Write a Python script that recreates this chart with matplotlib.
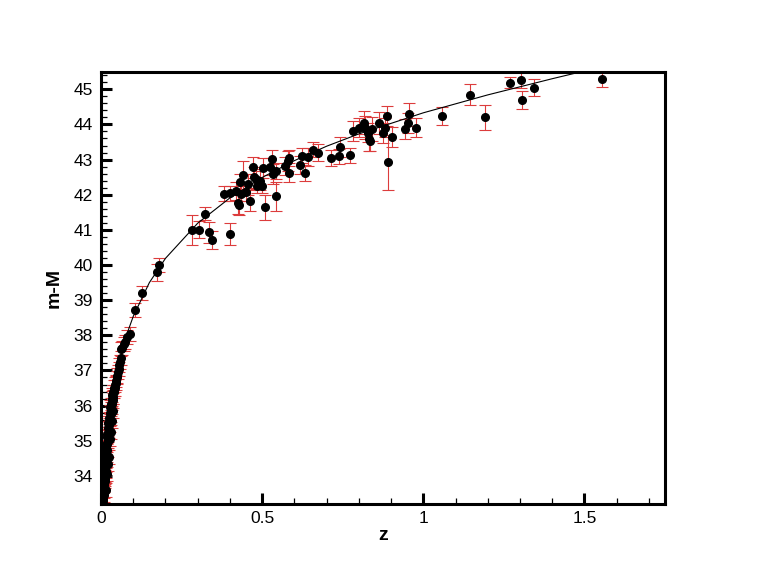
import matplotlib
matplotlib.use("Agg")
import matplotlib.pyplot as plt
from matplotlib.ticker import MultipleLocator, FuncFormatter

plt.rcParams['font.family'] = ['Liberation Sans', 'DejaVu Sans']

# ---- data: low-z supernovae ----
z_low = [0.0070, 0.0085, 0.0095, 0.0100, 0.0105, 0.0110, 0.0115, 0.0120, 0.0125, 0.0130,
         0.0135, 0.0140, 0.0145, 0.0150, 0.0155, 0.0160, 0.0165, 0.0170, 0.0175, 0.0180,
         0.0185, 0.0190, 0.0200, 0.0205, 0.0215, 0.0220, 0.0230, 0.0240, 0.0250, 0.0260,
         0.0270, 0.0280, 0.0290, 0.0300, 0.0310, 0.0320, 0.0330, 0.0340, 0.0350, 0.0360,
         0.0370, 0.0380, 0.0395, 0.0410, 0.0425, 0.0440, 0.0455, 0.0470, 0.0490, 0.0510,
         0.0530, 0.0550, 0.0570, 0.0590, 0.0610, 0.0630, 0.0650, 0.0700, 0.0750, 0.0820,
         0.0900, 0.1050, 0.1260, 0.1740, 0.1800, 0.0200, 0.0240, 0.0060, 0.0160, 0.0300,
         0.0330, 0.0380, 0.0050, 0.0230, 0.0270]
mu_low = [33.35, 33.45, 33.60, 33.75, 33.55, 33.90, 34.05, 33.85, 34.20, 34.00,
          34.35, 34.15, 34.50, 34.30, 34.65, 34.45, 34.80, 34.60, 34.95, 34.75,
          35.10, 34.90, 35.20, 35.00, 35.35, 35.15, 35.50, 35.30, 35.65, 35.45,
          35.80, 35.60, 35.95, 35.75, 36.05, 35.90, 36.20, 36.05, 36.30, 36.15,
          36.40, 36.25, 36.50, 36.40, 36.60, 36.50, 36.70, 36.65, 36.85, 36.80,
          36.95, 37.05, 37.15, 37.25, 37.35, 37.60, 37.65, 37.75, 37.80, 37.95,
          38.05, 38.73, 39.20, 39.79, 40.00, 34.05, 34.55, 33.90, 33.60, 35.25,
          35.55, 35.85, 33.30, 34.35, 35.05]
err_low = [0.20, 0.18, 0.20, 0.22, 0.18, 0.20, 0.22, 0.18, 0.20, 0.22,
           0.18, 0.20, 0.22, 0.18, 0.20, 0.22, 0.18, 0.20, 0.22, 0.18,
           0.20, 0.22, 0.18, 0.20, 0.22, 0.18, 0.20, 0.22, 0.18, 0.20,
           0.22, 0.18, 0.20, 0.22, 0.18, 0.20, 0.22, 0.18, 0.20, 0.22,
           0.18, 0.20, 0.22, 0.18, 0.20, 0.22, 0.18, 0.20, 0.22, 0.18,
           0.20, 0.20, 0.20, 0.20, 0.20, 0.20, 0.20, 0.20, 0.20, 0.20,
           0.20, 0.20, 0.20, 0.25, 0.20, 0.20, 0.20, 0.20, 0.20, 0.20,
           0.20, 0.20, 0.20, 0.20, 0.20]

# ---- data: high-z supernovae ----
z_high = [0.281, 0.304, 0.323, 0.336, 0.344, 0.400, 0.383, 0.399, 0.418, 0.424,
          0.429, 0.434, 0.432, 0.442, 0.450, 0.457, 0.462, 0.471, 0.475, 0.481,
          0.485, 0.494, 0.499, 0.510, 0.504, 0.523, 0.530, 0.535, 0.543, 0.543,
          0.571, 0.579, 0.582, 0.584, 0.618, 0.623, 0.634, 0.641, 0.659, 0.672,
          0.713, 0.739, 0.742, 0.773, 0.781, 0.800, 0.815, 0.820, 0.827, 0.833,
          0.835, 0.841, 0.863, 0.875, 0.882, 0.887, 0.889, 0.902, 0.944, 0.951,
          0.956, 0.978, 1.058, 1.144, 1.192, 1.268, 1.303, 1.307, 1.343, 1.553]
mu_high = [41.00, 41.01, 41.46, 40.93, 40.71, 40.89, 42.03, 42.04, 42.10, 41.76,
           41.71, 42.03, 42.35, 42.57, 42.07, 42.30, 41.83, 42.78, 42.49, 42.45,
           42.26, 42.40, 42.26, 41.64, 42.76, 42.80, 43.01, 42.59, 42.68, 41.95,
           42.82, 42.95, 43.04, 42.63, 42.85, 43.11, 42.62, 43.08, 43.28, 43.20,
           43.04, 43.09, 43.36, 43.12, 43.82, 43.91, 44.05, 43.91, 43.77, 43.58,
           43.53, 43.87, 44.04, 43.75, 43.91, 44.24, 42.92, 43.65, 43.87, 44.05,
           44.29, 43.91, 44.24, 44.84, 44.20, 45.19, 45.27, 44.70, 45.05, 45.30]
err_high = [0.42, 0.25, 0.19, 0.30, 0.25, 0.31, 0.22, 0.22, 0.25, 0.30,
            0.28, 0.22, 0.25, 0.40, 0.25, 0.30, 0.30, 0.30, 0.30, 0.28,
            0.22, 0.28, 0.22, 0.36, 0.28, 0.25, 0.25, 0.28, 0.22, 0.42,
            0.25, 0.28, 0.22, 0.28, 0.25, 0.22, 0.22, 0.25, 0.22, 0.25,
            0.22, 0.22, 0.28, 0.22, 0.28, 0.28, 0.33, 0.33, 0.28, 0.33,
            0.28, 0.33, 0.30, 0.28, 0.28, 0.28, 0.78, 0.28, 0.28, 0.28,
            0.33, 0.28, 0.25, 0.30, 0.35, 0.15, 0.22, 0.25, 0.25, 0.23]

# ---- model curve ----
z_curve = [0.009, 0.012, 0.016, 0.020, 0.025, 0.030, 0.040, 0.050, 0.060, 0.080,
           0.100, 0.150, 0.200, 0.300, 0.400, 0.500, 0.600, 0.700, 0.800, 1.000,
           1.200, 1.300, 1.400, 1.500, 1.600]
mu_curve = [33.17, 33.80, 34.44, 34.93, 35.42, 35.82, 36.46, 36.97, 37.38, 38.03,
            38.54, 39.50, 40.19, 41.19, 41.91, 42.49, 42.97, 43.38, 43.73, 44.33,
            44.84, 45.07, 45.30, 45.52, 45.73]

fig = plt.figure(figsize=(7.58, 5.69), dpi=100)
ax = fig.add_axes([0.1333, 0.1142, 0.7440, 0.7598])

ecol = '#dc3c3c'
for zz, mm, ee in ((z_low, mu_low, err_low), (z_high, mu_high, err_high)):
    ax.errorbar(zz, mm, yerr=ee, fmt='none', ecolor=ecol, elinewidth=0.8,
                capsize=4.5, capthick=0.8, zorder=2)
    ax.plot(zz, mm, 'o', color='black', markersize=5.5, zorder=3)

ax.plot(z_curve, mu_curve, color='black', linewidth=0.8, zorder=4)

ax.set_xlim(0, 1.75)
ax.set_ylim(33.2, 45.5)

ax.xaxis.set_major_locator(MultipleLocator(0.5))
ax.xaxis.set_minor_locator(MultipleLocator(0.1))
ax.yaxis.set_major_locator(MultipleLocator(1))
ax.yaxis.set_minor_locator(MultipleLocator(0.2))
ax.xaxis.set_major_formatter(FuncFormatter(lambda v, p: f"{v:g}"))
ax.yaxis.set_major_formatter(FuncFormatter(lambda v, p: f"{v:g}"))

ax.tick_params(which='both', direction='in', top=False, right=False, labelsize=12.5)
ax.tick_params(which='major', length=8, width=2.2)
ax.tick_params(which='minor', length=4.5, width=0.9)
ax.tick_params(axis='x', pad=5)
ax.tick_params(axis='y', pad=6)

for s in ax.spines.values():
    s.set_linewidth(2.2)

ax.set_xlabel('z', fontsize=14, fontweight='bold', labelpad=1)
ax.set_ylabel('m-M', fontsize=14, fontweight='bold', labelpad=8)

fig.savefig('out.png', dpi=100)
